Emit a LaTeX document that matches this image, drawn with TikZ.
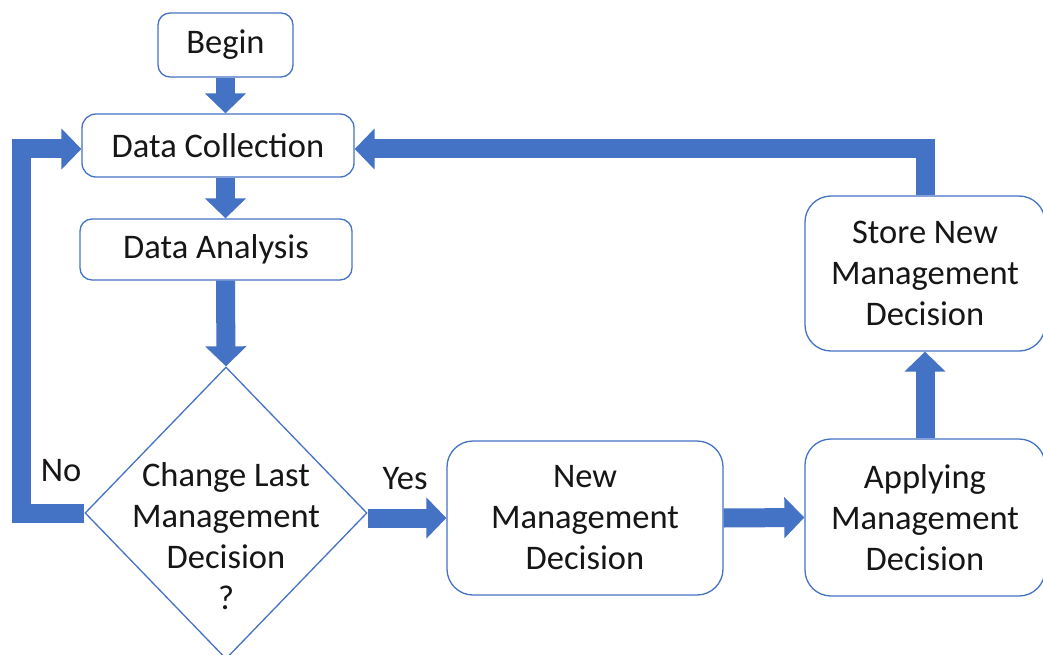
\documentclass[tikz,border=0pt]{standalone}
\usepackage{fontspec}
\setmainfont{Carlito}
\usetikzlibrary{arrows.meta,shapes.geometric}
\definecolor{flowblue}{HTML}{4472C4}
\definecolor{txtc}{HTML}{161616}
\begin{document}
\begin{tikzpicture}[x=1pt,y=-1pt,
  box/.style={draw=flowblue, line width=1.3pt, fill=white, rounded corners=#1,
    text=txtc, align=center, inner sep=0pt, font=\fontsize{34.5}{41}\selectfont},
  dec/.style={draw=flowblue, line width=1.3pt, fill=white, diamond, inner sep=0pt,
    minimum width=282pt, minimum height=292pt},
  lbl/.style={text=txtc, inner sep=0pt, align=center, font=\fontsize{34.5}{41}\selectfont},
  bigarrow/.style={draw=flowblue, line width=19pt, line join=miter,
    -{Triangle[width=40pt,length=20pt]}}]
\useasboundingbox (0,0) rectangle (1043,655);
\fill[white] (0,0) rectangle (1043,655);
% nodes
\node[box=12pt, minimum width=135pt, minimum height=64pt] (begin) at (225.5,45) {Begin};
\node[box=14pt, minimum width=272pt, minimum height=63pt] (dc) at (218,145.5) {Data Collection};
\node[box=12pt, minimum width=272pt, minimum height=61pt] (da) at (216,249.5) {Data Analysis};
\node[dec] (dia) at (226,513) {};
\node[lbl] (diatext) at (226,536.5) {Change Last\\Management\\Decision\\?};
\node[box=26pt, minimum width=276pt, minimum height=154pt] (new) at (585,518) {New\\Management\\Decision};
\node[box=26pt, minimum width=240pt, minimum height=157pt] (app) at (925,517.5) {Applying\\Management\\Decision};
\node[box=26pt, minimum width=240pt, minimum height=155pt] (store) at (925,273.5) {Store New\\Management\\Decision};
\node[lbl] (no) at (61,471) {No};
\node[lbl] (yes) at (405,479) {Yes};
% connectors
\draw[bigarrow] (begin.south) -- (begin.south |- dc.north);
\draw[bigarrow] (begin.south |- dc.south) -- (begin.south |- da.north);
\draw[bigarrow] (begin.south |- da.south) -- (dia.north);
\draw[bigarrow] (dia.east |- new.west) -- (new.west);
\draw[bigarrow] (new.east) -- (app.west);
\draw[bigarrow] (app.north) -- (store.south);
\draw[bigarrow] (store.north) |- ([yshift=-3.5pt]dc.east);
\draw[bigarrow] (dia.west) -- (21,513) |- ([yshift=-3.5pt]dc.west);
\end{tikzpicture}
\end{document}
